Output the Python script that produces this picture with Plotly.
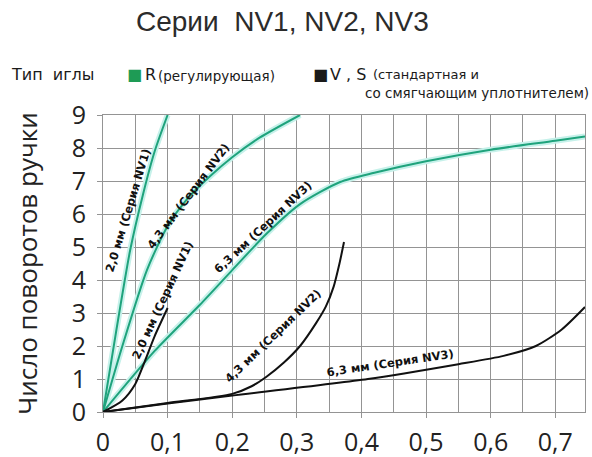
import plotly.graph_objects as go

# ---- data ----
# Green: needle type R (регулирующая)
r_nv1_x = [0, 0.02, 0.042, 0.062, 0.08, 0.1]
r_nv1_y = [0, 2.4, 4.9, 6.6, 7.9, 9.0]
r_nv2_x = [0, 0.03, 0.068, 0.099, 0.13, 0.166, 0.2, 0.243, 0.305]
r_nv2_y = [0, 2.0, 4.3, 5.6, 6.45, 7.15, 7.72, 8.32, 9.0]
r_nv3_x = [0, 0.08, 0.15, 0.2, 0.253, 0.305, 0.367, 0.42, 0.5, 0.6, 0.7, 0.746]
r_nv3_y = [0, 1.85, 3.25, 4.3, 5.4, 6.3, 6.97, 7.25, 7.6, 7.95, 8.22, 8.35]
# Black: needle types V, S
v_nv1_x = [0, 0.03, 0.05, 0.065, 0.08, 0.1]
v_nv1_y = [0, 0.35, 0.85, 1.55, 2.3, 3.15]
v_nv2_x = [0, 0.1, 0.2, 0.23, 0.253, 0.28, 0.305, 0.33, 0.345, 0.357, 0.366, 0.373]
v_nv2_y = [0, 0.27, 0.55, 0.78, 1.07, 1.5, 2.0, 2.7, 3.2, 3.8, 4.5, 5.15]
v_nv3_x = [0, 0.1, 0.2, 0.41, 0.55, 0.62, 0.67, 0.71, 0.746]
v_nv3_y = [0, 0.26, 0.5, 1.0, 1.45, 1.7, 2.0, 2.5, 3.18]

x_ticks = [0, 0.1, 0.2, 0.3, 0.4, 0.5, 0.6, 0.7]
x_tick_labels = ["0", "0,1", "0,2", "0,3", "0,4", "0,5", "0,6", "0,7"]
y_ticks = list(range(0, 10))

# curve labels: text, x, y, angle
labels = [
    ("2,0 мм (Серия NV1)", 0.038, 6.1, -73),
    ("4,3 мм (Серия NV2)", 0.132, 6.55, -53),
    ("2,0 мм (Серия NV1)", 0.092, 3.4, -65),
    ("6,3 мм (Серия NV3)", 0.248, 5.6, -43),
    ("4,3 мм (Серия NV2)", 0.263, 2.3, -44),
    ("6,3 мм (Серия NV3)", 0.444, 1.5, -8.5),
]

GREEN = "#1fa37c"
HALO = "#c6f1ea"
BLACK = "#111111"
GRID = "#949494"

fig = go.Figure()
SM = 0.7
for xs, ys in [(r_nv1_x, r_nv1_y), (r_nv2_x, r_nv2_y), (r_nv3_x, r_nv3_y)]:
    fig.add_trace(go.Scatter(x=xs, y=ys, mode="lines",
                             line=dict(color=HALO, width=6, shape="spline", smoothing=SM),
                             hoverinfo="skip", showlegend=False))
for xs, ys in [(r_nv1_x, r_nv1_y), (r_nv2_x, r_nv2_y), (r_nv3_x, r_nv3_y)]:
    fig.add_trace(go.Scatter(x=xs, y=ys, mode="lines",
                             line=dict(color=GREEN, width=2, shape="spline", smoothing=SM),
                             showlegend=False))
for xs, ys in [(v_nv1_x, v_nv1_y), (v_nv2_x, v_nv2_y), (v_nv3_x, v_nv3_y)]:
    fig.add_trace(go.Scatter(x=xs, y=ys, mode="lines",
                             line=dict(color=BLACK, width=2, shape="spline", smoothing=SM),
                             showlegend=False))

for text, x, y, ang in labels:
    fig.add_annotation(x=x, y=y, text="<b>" + text + "</b>", showarrow=False, textangle=ang,
                       font=dict(family="DejaVu Sans", size=11.5, color="#111"))

W, H = 592, 457
ml, mr, mt, mb = 103, 7, 115, 45
pw, ph = W - ml - mr, H - mt - mb


def pp(xpix, ypix):
    return (xpix - ml) / pw, (H - mb - ypix) / ph


def note(xpix, ypix, text, size, family="DejaVu Sans", color="#1a1a1a", xanchor="left"):
    x, y = pp(xpix, ypix)
    fig.add_annotation(x=x, y=y, xref="paper", yref="paper", xanchor=xanchor, yanchor="middle",
                       text=text, showarrow=False, font=dict(family=family, size=size, color=color))


note(282, 21, "Серии  NV1, NV2, NV3", 28, family="Liberation Sans", color="#2b2b2b", xanchor="center")
note(9, 75, "Тип  иглы", 16)
note(125, 75, "<span style='color:#1e9b55'>■</span>", 16)
note(143, 75, "R", 16)
note(156, 76, "(регулирующая)", 13.5)
note(311, 75, "■", 16)
note(328, 75, "V , S", 16)
note(371, 74, "(стандартная и", 13)
note(591, 93, "со смягчающим уплотнителем)", 13.5, xanchor="right")

fig.update_layout(
    width=W, height=H,
    margin=dict(l=ml, r=mr, t=mt, b=mb, autoexpand=False),
    paper_bgcolor="white", plot_bgcolor="white",
    showlegend=False,
    xaxis=dict(range=[0, 0.746], tickvals=x_ticks, ticktext=x_tick_labels,
               showgrid=True, gridcolor=GRID, gridwidth=1,
               minor=dict(dtick=0.05, tick0=0, showgrid=True, gridcolor=GRID, gridwidth=1),
               showline=True, linecolor=GRID, linewidth=1, mirror=True,
               ticks="outside", ticklen=5, tickcolor=GRID,
               zeroline=False, automargin=False, ticklabelstandoff=3,
               tickfont=dict(family="Open Sans", size=25, color="#222")),
    yaxis=dict(range=[0, 9], tickvals=y_ticks,
               showgrid=True, gridcolor=GRID, gridwidth=1,
               showline=True, linecolor=GRID, linewidth=1, mirror=True,
               ticks="outside", ticklen=5, tickcolor=GRID,
               zeroline=False, automargin=False, ticklabelstandoff=6,
               tickfont=dict(family="Open Sans", size=25, color="#222"),
               title=dict(text="Число поворотов ручки", standoff=26,
                          font=dict(family="Open Sans", size=26, color="#222"))),
)

fig.write_html("out.html", config={"displayModeBar": False},
               post_script="document.body.style.margin='0';")
